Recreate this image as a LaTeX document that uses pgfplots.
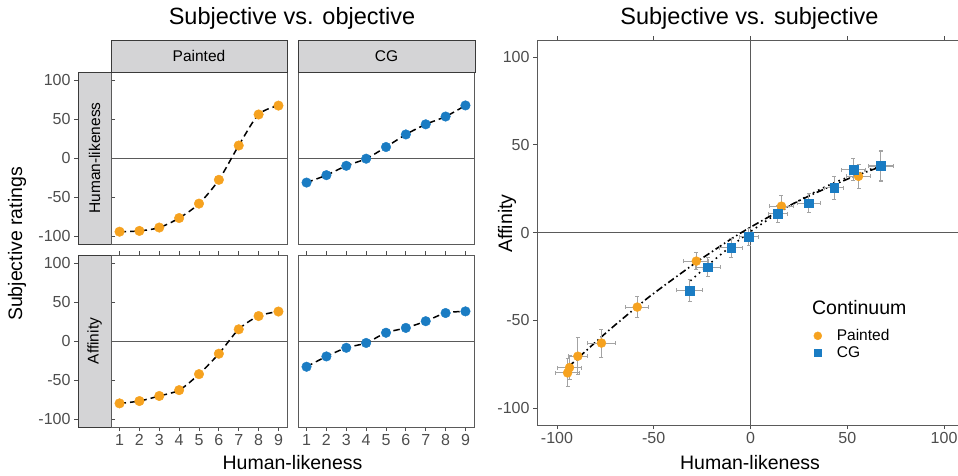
\documentclass[border=0pt]{standalone}
\usepackage{pgfplots}
\pgfplotsset{compat=1.18}
\usepackage{pgfplotstable}
\usepackage{fontspec}
\setmainfont{Liberation Sans}

\definecolor{painted}{HTML}{F6A21F}
\definecolor{cgblue}{HTML}{1A7CC3}
\definecolor{stripfill}{HTML}{D4D4D6}
\definecolor{framec}{HTML}{5A5A5A}
\definecolor{stripline}{HTML}{3A3A3A}
\definecolor{tickc}{HTML}{4D4D4D}
\definecolor{errc}{HTML}{A3A3A3}

% mean ratings per morph level (1-9)
\pgfplotstableread{
lvl hl aff
1 -94.5 -80.0
2 -93.5 -77.0
3 -89.2 -70.5
4 -77.0 -63.0
5 -58.5 -42.5
6 -28.0 -16.3
7 16.0 15.0
8 55.8 32.0
9 67.2 37.8
}\paintedtab
\pgfplotstableread{
lvl hl aff
1 -31.5 -33.0
2 -22.0 -19.8
3 -10.0 -8.7
4 -0.9 -2.5
5 14.1 10.6
6 30.2 16.8
7 43.2 25.4
8 53.2 35.9
9 67.4 38.0
}\cgtab
% with 95% CI half-widths
\pgfplotstableread{
hl aff ehl eaff
-94.5 -80.0 6.0 8.0
-93.5 -77.0 6.0 7.0
-89.2 -70.5 5.0 10.5
-77.0 -63.0 7.0 8.0
-58.5 -42.5 6.0 6.0
-28.0 -16.3 6.5 5.0
16.0 15.0 6.0 6.0
55.8 32.0 6.0 7.0
67.2 37.8 6.5 8.5
}\paintedci
\pgfplotstableread{
hl aff ehl eaff
-31.5 -33.0 6.5 6.5
-22.0 -19.8 6.5 5.5
-10.0 -8.7 6.0 5.5
-0.9 -2.5 5.0 5.0
14.1 10.6 5.0 5.0
30.2 16.8 6.0 5.5
43.2 25.4 5.0 6.5
53.2 35.9 6.0 6.5
67.4 38.0 6.5 8.5
}\cgci

\pgfplotsset{
  common/.style={
    scale only axis,
    axis line style={draw=framec, line width=0.9pt},
    tick align=outside, major tick length=4pt,
    tick style={draw=tickc, line width=0.8pt},
    ticklabel style={text=tickc, font=\fontsize{16}{18}\selectfont},
    /pgf/number format/assume math mode=true,
  },
  facet/.style={
    common, width=176pt, height=172pt,
    xmin=0.57, xmax=9.43, ymin=-110.3, ymax=110.3,
    xtick={1,...,9}, ytick=\empty,
  },
  ystrip/.style={
    common, width=33pt, height=172pt,
    xmin=0, xmax=1, ymin=-110.3, ymax=110.3,
    xtick=\empty, ytick={-100,-50,0,50,100},
    axis background/.style={fill=stripfill},
    axis line style={draw=stripline, line width=0.9pt},
  },
  fitline/.style={black, line width=1.5pt, dash pattern=on 6.5pt off 4pt, smooth},
  zeroline/.style={framec, line width=0.8pt},
}

\begin{document}
\begin{tikzpicture}[x=1pt, y=1pt]
\useasboundingbox (0,0) rectangle (958,475);

% ---- left block: subjective vs objective ----
\begin{axis}[ystrip, at={(78pt,231pt)}, anchor=south west]
\node[rotate=90, font=\fontsize{15.5}{17}\selectfont] at (rel axis cs:0.5,0.5) {Human-likeness};
\end{axis}
\begin{axis}[ystrip, at={(78pt,48pt)}, anchor=south west]
\node[rotate=90, font=\fontsize{15.5}{17}\selectfont] at (rel axis cs:0.5,0.5) {Affinity};
\end{axis}

\begin{axis}[facet, at={(111pt,231pt)}, anchor=south west, xtick=\empty]
\addplot[zeroline] coordinates {(0,0) (10,0)};
\addplot[fitline] table[x=lvl, y=hl] {\paintedtab};
\addplot[only marks, mark=*, mark size=4.8pt, painted] table[x=lvl, y=hl] {\paintedtab};
\end{axis}
\begin{axis}[facet, at={(298pt,231pt)}, anchor=south west, xtick=\empty]
\addplot[zeroline] coordinates {(0,0) (10,0)};
\addplot[fitline] table[x=lvl, y=hl] {\cgtab};
\addplot[only marks, mark=*, mark size=4.8pt, cgblue] table[x=lvl, y=hl] {\cgtab};
\end{axis}
\begin{axis}[facet, at={(111pt,48pt)}, anchor=south west]
\addplot[zeroline] coordinates {(0,0) (10,0)};
\addplot[fitline] table[x=lvl, y=aff] {\paintedtab};
\addplot[only marks, mark=*, mark size=4.8pt, painted] table[x=lvl, y=aff] {\paintedtab};
\end{axis}
\begin{axis}[facet, at={(298pt,48pt)}, anchor=south west]
\addplot[zeroline] coordinates {(0,0) (10,0)};
\addplot[fitline] table[x=lvl, y=aff] {\cgtab};
\addplot[only marks, mark=*, mark size=4.8pt, cgblue] table[x=lvl, y=aff] {\cgtab};
\end{axis}

% top strips
\filldraw[fill=stripfill, draw=stripline, line width=0.9pt] (111,403) rectangle (287,435);
\filldraw[fill=stripfill, draw=stripline, line width=0.9pt] (298,403) rectangle (475,435);
\node[font=\fontsize{15.5}{17}\selectfont] at (199,419) {Painted};
\node[font=\fontsize{15.5}{17}\selectfont] at (386.5,419) {CG};

\node[font=\fontsize{23.5}{26}\selectfont] at (292,457) {Subjective vs. objective};
\node[font=\fontsize{19.5}{22}\selectfont] at (292.5,12) {Human-likeness};
\node[rotate=90, font=\fontsize{19.5}{22}\selectfont] at (17,231) {Subjective ratings};

% ---- right block: subjective vs subjective ----
\begin{axis}[common, width=427pt, height=385pt, at={(537pt,50pt)}, anchor=south west,
  xmin=-110.3, xmax=110.3, ymin=-109.7, ymax=109.7,
  xtick={-100,-50,0,50,100}, ytick={-100,-50,0,50,100},
  legend style={at={(axis cs:32.6,-54)}, anchor=north west, draw=none, fill=none,
    font=\fontsize{15.5}{17}\selectfont, row sep=0.5pt, inner sep=0pt,
    /tikz/every odd column/.append style={column sep=13pt}},
  legend image code/.code={\draw[#1] plot coordinates {(0.3cm,0cm)};},
  legend cell align=left,
  error bars/error bar style={errc, line width=1pt},
  error bars/error mark options={errc, line width=1pt, mark size=2pt, rotate=90},
]
\addplot[zeroline, forget plot] coordinates {(-120,0) (120,0)};
\addplot[zeroline, forget plot] coordinates {(0,-120) (0,120)};
% fitted curves
\addplot[black, line width=1.6pt, dash pattern=on 7pt off 3pt on 1.5pt off 3pt, smooth, forget plot]
  coordinates {(-94,-76.5) (-75,-57.5) (-58.6,-42.3) (-50,-34.7) (-28,-17) (-10,-3.7) (0,3) (16,12.9) (30,20.7) (50,30.4) (66,37)};
\addplot[black, line width=1.6pt, dash pattern=on 1.6pt off 4pt, smooth, forget plot]
  coordinates {(-31,-27.5) (-20,-16.8) (-10,-7.8) (0,0.5) (15,11.6) (30,21.2) (45,29.2) (67,38)};
\addplot[only marks, mark=*, mark size=4.5pt, painted, forget plot,
  error bars/.cd, x dir=both, y dir=both, x explicit, y explicit]
  table[x=hl, y=aff, x error=ehl, y error=eaff] {\paintedci};
\addplot[only marks, mark=square*, mark size=4.3pt, cgblue, forget plot,
  error bars/.cd, x dir=both, y dir=both, x explicit, y explicit]
  table[x=hl, y=aff, x error=ehl, y error=eaff] {\cgci};
\addlegendimage{only marks, mark=*, mark size=4pt, painted}
\addlegendentry{Painted}
\addlegendimage{only marks, mark=square*, mark size=3.5pt, cgblue}
\addlegendentry{CG}
\node[anchor=west, font=\fontsize{19.5}{22}\selectfont] at (axis cs:30,-42.7) {Continuum};
\end{axis}

\node[font=\fontsize{23.5}{26}\selectfont] at (749.5,457) {Subjective vs. subjective};
\node[font=\fontsize{19.5}{22}\selectfont] at (750,12) {Human-likeness};
\node[rotate=90, font=\fontsize{19.5}{22}\selectfont] at (507,251.5) {Affinity};
\end{tikzpicture}
\end{document}
